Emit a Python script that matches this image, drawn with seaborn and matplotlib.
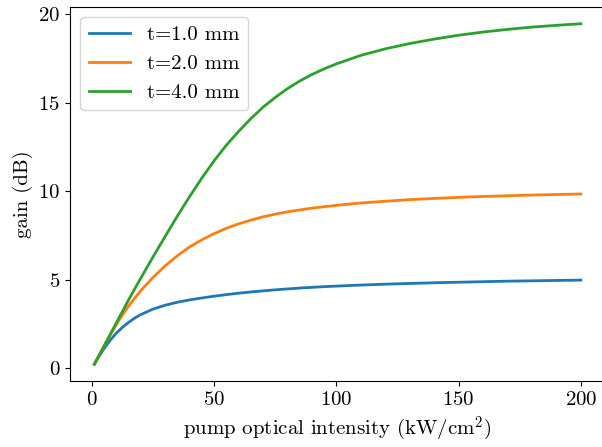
import matplotlib
matplotlib.use('Agg')
import matplotlib.pyplot as plt
import numpy as np
import pandas as pd
import seaborn as sns

# values
intensity = [1, 2, 3, 5, 7.5, 10, 12.5, 15, 17.5, 20, 25, 30, 35, 40, 45, 50, 55, 60, 65,
             70, 75, 80, 85, 90, 95, 100, 110, 120, 130, 140, 150, 160, 170, 180, 190, 200]
gain_t1 = [0.21, 0.45, 0.68, 1.1, 1.57, 1.97, 2.3, 2.58, 2.82, 3.02, 3.33, 3.55, 3.72, 3.85,
           3.96, 4.06, 4.15, 4.23, 4.3, 4.36, 4.42, 4.47, 4.52, 4.56, 4.6, 4.63, 4.69, 4.74,
           4.78, 4.82, 4.85, 4.88, 4.91, 4.93, 4.95, 4.97]
gain_t2 = [0.21, 0.47, 0.73, 1.24, 1.86, 2.45, 3.0, 3.5, 3.95, 4.37, 5.12, 5.78, 6.35, 6.85,
           7.25, 7.6, 7.9, 8.15, 8.36, 8.55, 8.7, 8.83, 8.94, 9.04, 9.12, 9.2, 9.33, 9.43,
           9.52, 9.59, 9.65, 9.7, 9.74, 9.78, 9.81, 9.84]
gain_t4 = [0.21, 0.47, 0.73, 1.25, 1.9, 2.55, 3.2, 3.85, 4.47, 5.08, 6.28, 7.45, 8.6, 9.7,
           10.75, 11.72, 12.6, 13.38, 14.1, 14.75, 15.3, 15.8, 16.23, 16.6, 16.92, 17.2,
           17.68, 18.05, 18.35, 18.6, 18.82, 19.0, 19.15, 19.28, 19.38, 19.47]
labels = ['t=1.0 mm', 't=2.0 mm', 't=4.0 mm']

df = pd.concat([
    pd.DataFrame({'x': intensity, 'gain': g, 't': lab})
    for g, lab in zip([gain_t1, gain_t2, gain_t4], labels)
])

plt.rcParams['font.family'] = 'serif'
plt.rcParams['font.serif'] = ['cmr10']
plt.rcParams['mathtext.fontset'] = 'cm'
plt.rcParams['axes.formatter.use_mathtext'] = True
plt.rcParams['font.size'] = 15

fig = plt.figure(figsize=(6.02, 4.47), dpi=100)
ax = fig.add_axes([0.1163, 0.147, 0.889, 0.838])
sns.lineplot(data=df, x='x', y='gain', hue='t', palette=['#1f77b4', '#ff7f0e', '#2ca02c'],
             linewidth=2, ax=ax)
# right edge of the frame is cut off in the reference
ax.spines['right'].set_visible(False)
ax.set_xlabel('pump optical intensity (kW/cm$^2$)')
ax.set_ylabel('gain (dB)')
ax.set_xticks([0, 50, 100, 150, 200])
ax.set_yticks([0, 5, 10, 15, 20])
ax.legend(loc='upper left', fontsize=15)
fig.savefig('out.png', dpi=100)
